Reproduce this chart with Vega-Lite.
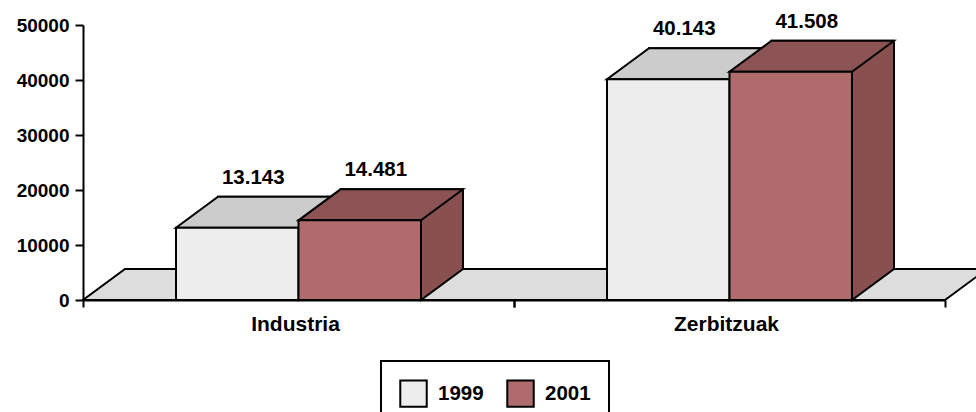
{
  "$schema": "https://vega.github.io/schema/vega-lite/v6.json",
  "width": 862,
  "height": 275,
  "autosize": {"type": "none"},
  "padding": {"left": 83, "top": 25, "right": 31, "bottom": 112},
  "background": "white",
  "config": {
    "view": {"stroke": null},
    "font": "Liberation Sans",
    "locale": {"number": {"decimal": ",", "thousands": ".", "grouping": [3], "currency": ["", " €"]}},
    "axis": {"domainColor": "black", "domainWidth": 2, "tickColor": "black", "tickWidth": 2, "labelColor": "black", "labelFont": "Liberation Sans", "labelFontWeight": "bold", "grid": false},
    "axisY": {"tickSize": 8, "labelFontSize": 19, "labelPadding": 6},
    "axisX": {"tickSize": 7, "labelFontSize": 21, "labelPadding": 6, "labelAngle": 0},
    "legend": {"strokeColor": "black", "strokeWidth": 2}
  },
  "data": {"values": [
    {"sector": "Industria", "year": "1999", "workers": 13143},
    {"sector": "Industria", "year": "2001", "workers": 14481},
    {"sector": "Zerbitzuak", "year": "1999", "workers": 40143},
    {"sector": "Zerbitzuak", "year": "2001", "workers": 41508}
  ]},
  "resolve": {"scale": {"x": "independent", "xOffset": "independent"}, "axis": {"x": "independent"}},
  "layer": [
    {
      "data": {"values": [{"floor": "floor"}]},
      "mark": {"type": "point", "shape": "M -215.5 0 L 646.5 0 L 688.5 -31 L -173.5 -31 Z", "size": 4, "filled": true, "fill": "#DDDDDD", "stroke": "black", "strokeWidth": 2, "opacity": 1},
      "encoding": {
        "x": {"datum": "Industria", "type": "nominal", "scale": {"domain": ["Industria", "Zerbitzuak"], "paddingInner": 0.4316, "paddingOuter": 0.2158}, "axis": {"orient": "bottom", "title": null, "labels": false, "domain": false, "tickOffset": 215.5}},
        "y": {"datum": 0, "type": "quantitative", "scale": {"domain": [0, 50000]}, "axis": {"title": null, "values": [0, 10000, 20000, 30000, 40000, 50000], "format": "d"}}
      }
    },
    {
      "mark": {"type": "bar", "yOffset": -31, "y2Offset": -31, "stroke": "black", "strokeWidth": 2},
      "encoding": {
        "x": {"field": "sector", "type": "nominal", "scale": {"domain": ["Industria", "Zerbitzuak"], "paddingInner": 0.4316, "paddingOuter": 0.2158, "range": [42, 904]}, "axis": null},
        "xOffset": {"field": "year", "type": "nominal", "scale": {"domain": ["1999", "2001"]}},
        "y": {"field": "workers", "type": "quantitative", "scale": {"domain": [0, 50000]}, "axis": {"title": null, "values": [0, 10000, 20000, 30000, 40000, 50000], "format": "d"}},
        "y2": {"datum": 0},
        "fill": {"condition": {"test": "datum.year === '1999'", "value": "#A6A6A6"}, "value": "#895050"}
      }
    },
    {
      "layer": [
        {
          "mark": {"type": "point", "shape": "M 61.25 -33 L 61.25 0 L 103.25 -31 L 103.25 -33", "size": 4, "filled": true, "stroke": "black", "strokeWidth": 2, "opacity": 1},
          "encoding": {
            "x": {"field": "sector", "type": "nominal", "scale": {"domain": ["Industria", "Zerbitzuak"], "paddingInner": 0.4316, "paddingOuter": 0.2158}, "axis": {"orient": "bottom", "title": null, "tickOffset": -215.5, "labelOffset": 212}},
            "xOffset": {"field": "year", "type": "nominal", "scale": {"domain": ["1999", "2001"]}},
            "y": {"datum": 0, "type": "quantitative", "scale": {"domain": [0, 50000]}, "axis": {"title": null, "values": [0, 10000, 20000, 30000, 40000, 50000], "format": "d"}},
            "fill": {"condition": {"test": "datum.year === '1999'", "value": "#A6A6A6"}, "value": "#895050"}
          }
        },
        {
          "mark": {"type": "point", "shape": "M -61.25 0 L 61.25 0 L 103.25 -31 L -19.25 -31 Z", "size": 4, "filled": true, "stroke": "black", "strokeWidth": 2, "opacity": 1},
          "encoding": {
            "x": {"field": "sector", "type": "nominal"},
            "xOffset": {"field": "year", "type": "nominal"},
            "y": {"field": "workers", "type": "quantitative"},
            "fill": {"condition": {"test": "datum.year === '1999'", "value": "#CCCCCC"}, "value": "#8B5353"}
          }
        },
        {
          "mark": {"type": "bar", "stroke": "black", "strokeWidth": 2},
          "encoding": {
            "x": {"field": "sector", "type": "nominal"},
            "xOffset": {"field": "year", "type": "nominal"},
            "y": {"field": "workers", "type": "quantitative"},
            "fill": {
              "field": "year", "type": "nominal",
              "scale": {"domain": ["1999", "2001"], "range": ["#EDEDED", "#B06C6C"]},
              "legend": {"title": null, "orient": "none", "legendX": 298, "legendY": 336, "direction": "horizontal", "padding": 18, "symbolType": "square", "symbolSize": 700, "symbolStrokeColor": "black", "symbolStrokeWidth": 2, "symbolOpacity": 1, "labelFontSize": 20.5, "labelFontWeight": "bold", "labelColor": "black", "labelOffset": 10, "columnPadding": 19}
            }
          }
        },
        {
          "mark": {"type": "text", "dx": 16, "dy": -44, "baseline": "alphabetic", "align": "center", "fontSize": 20.5, "fontWeight": "bold", "color": "black"},
          "encoding": {
            "x": {"field": "sector", "type": "nominal"},
            "xOffset": {"field": "year", "type": "nominal"},
            "y": {"field": "workers", "type": "quantitative"},
            "text": {"field": "workers", "type": "quantitative", "format": ",d"}
          }
        }
      ]
    }
  ]
}
